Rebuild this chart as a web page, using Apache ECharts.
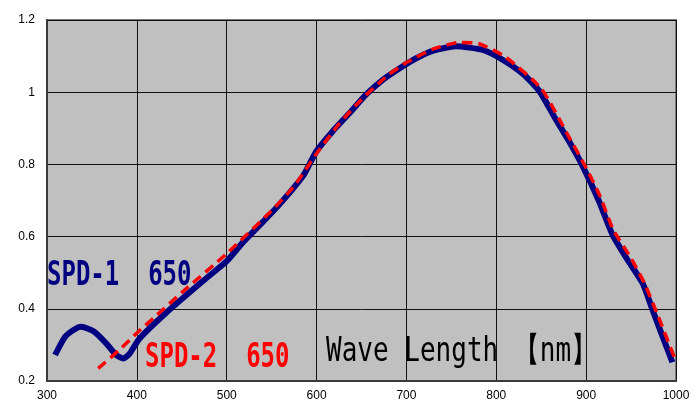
<!DOCTYPE html>
<html><head><meta charset="utf-8">
<script src="https://cdn.jsdelivr.net/npm/echarts@6/dist/echarts.min.js"></script>
<style>html,body{margin:0;padding:0;background:#fff}#c{width:700px;height:407px}</style>
</head><body><div id="c"></div>
<script>
const spd1X = [309,320,330,338,353,366,377,385,392,403,433,475,500,518,540,559,585,592,600,618,637,655,674,696,711,730,755,785,807,830,848,865,880,896,914,929,945,963,974,996];
const spd1Y = [0.272,0.322,0.342,0.35,0.336,0.304,0.272,0.262,0.276,0.318,0.39,0.48,0.532,0.584,0.64,0.69,0.768,0.80,0.837,0.892,0.943,0.993,1.035,1.072,1.094,1.115,1.127,1.117,1.09,1.05,1.003,0.93,0.868,0.796,0.70,0.607,0.54,0.47,0.396,0.252];
const spd2X = [357,380,400,422,450,500,550,575,600,625,650,680,700,730,760,780,810,850,880,900,915,930,950,965,980,999];
const spd2Y = [0.235,0.285,0.333,0.382,0.445,0.553,0.672,0.74,0.83,0.912,0.98,1.048,1.082,1.12,1.138,1.135,1.098,1.01,0.88,0.79,0.715,0.62,0.54,0.47,0.38,0.26];
const xTicks = {min:300, max:1000, interval:100};
const yTicks = {min:0.2, max:1.2, interval:0.2};
const labels = ['SPD-1  650','SPD-2  650','Wave Length 【nm】'];

const chart = echarts.init(document.getElementById('c'));
const pair = (xs, ys) => xs.map((x,i)=>[x, ys[i]]);
chart.setOption({
  animation:false,
  grid:{left:47,right:24,top:20,bottom:26,show:true,backgroundColor:'#c0c0c0',borderColor:'#7a7a7a',borderWidth:2},
  xAxis:{type:'value',min:xTicks.min,max:xTicks.max,interval:xTicks.interval,
    axisLine:{lineStyle:{color:'#3a3a3a',width:2}},axisTick:{show:false},
    axisLabel:{color:'#000',fontSize:12,fontFamily:'Liberation Sans',margin:9,formatter:v=>String(v)},
    splitLine:{lineStyle:{color:'#111',width:1}}},
  yAxis:{type:'value',min:yTicks.min,max:yTicks.max,interval:yTicks.interval,
    axisLine:{show:true,lineStyle:{color:'#3a3a3a',width:2}},axisTick:{show:false},
    axisLabel:{color:'#000',fontSize:12,fontFamily:'Liberation Sans',margin:12,formatter:v=>String(Math.round(v*10)/10)},
    splitLine:{lineStyle:{color:'#111',width:1}}},
  series:[
    {type:'line',data:pair(spd1X,spd1Y),showSymbol:false,smooth:0.2,lineStyle:{color:'#000080',width:6}},
    {type:'line',data:pair(spd2X,spd2Y),showSymbol:false,smooth:0.2,lineStyle:{color:'#ff0000',width:3.5,type:[10,6]}}
  ],
  graphic:[
    {type:'text',x:47,y:276.5,scaleY:1.43,z:100,style:{text:labels[0],font:'bold 24px "DejaVu Sans Mono"',fill:'#000080',verticalAlign:'middle'}},
    {type:'text',x:145,y:358,scaleY:1.43,z:100,style:{text:labels[1],font:'bold 24px "DejaVu Sans Mono"',fill:'#ff0000',verticalAlign:'middle'}},
    {type:'text',x:326,y:352.5,scaleY:1.32,z:100,style:{text:labels[2],font:'26px "DejaVu Sans Mono"',fill:'#000',verticalAlign:'middle'}}
  ]
});
</script></body></html>
